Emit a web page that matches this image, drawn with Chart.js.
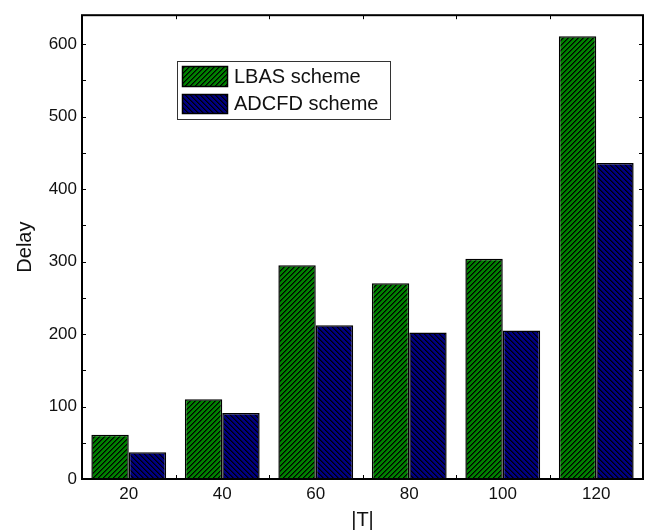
<!DOCTYPE html>
<html>
<head>
<meta charset="utf-8">
<script src="https://cdn.jsdelivr.net/npm/chart.js@4/dist/chart.umd.min.js"></script>
<style>
  html, body { margin: 0; padding: 0; background: #fff; }
  #wrap { width: 646px; height: 530px; }
</style>
</head>
<body>
<div id="wrap"><canvas id="c" width="646" height="530"></canvas></div>
<script>
// |T| values on the x axis
const categories = ['20', '40', '60', '80', '100', '120'];
// delay per scheme
const lbasDelay  = [61, 110, 295, 270, 304, 611];
const adcfdDelay = [37, 91, 212, 202, 205, 436];
const seriesNames = ['LBAS scheme', 'ADCFD scheme'];
const yTickValues = [0, 100, 200, 300, 400, 500, 600];

const FONT = '"Liberation Sans", Arial, sans-serif';

// Hatched fill: solid base colour with black diagonal stripes
function hatch(base, forward) {
  const size = 10;
  const c = document.createElement('canvas');
  c.width = size; c.height = size;
  const g = c.getContext('2d');
  g.fillStyle = base;
  g.fillRect(0, 0, size, size);
  for (let px = 0; px < size; px++) {
    for (let py = 0; py < size; py++) {
      const k = forward ? (px + py) % 5 : ((px - py) % 5 + 5) % 5;
      if (k === 0) { g.fillStyle = '#000'; g.fillRect(px, py, 1, 1); }
      else if (k === 1) { g.fillStyle = 'rgba(0,0,0,0.55)'; g.fillRect(px, py, 1, 1); }
    }
  }
  return g.createPattern(c, 'repeat');
}

const greenHatch = hatch('#008000', true);
const blueHatch  = hatch('#000080', false);

// Box frame plus inward tick marks on all four sides
const framePlugin = {
  id: 'frame',
  afterDatasetsDraw(chart) {
    const { ctx, chartArea: a, scales: { x, y } } = chart;
    ctx.save();
    ctx.strokeStyle = '#000';
    ctx.lineWidth = 1;
    ctx.beginPath();
    for (let v = 0; v <= 600; v += 50) {
      const py = Math.round(y.getPixelForValue(v)) + 0.5;
      ctx.moveTo(a.left, py); ctx.lineTo(a.left + 4, py);
      ctx.moveTo(a.right, py); ctx.lineTo(a.right - 4, py);
    }
    for (let i = 1; i < categories.length; i++) {
      const px = Math.round((x.getPixelForValue(i - 1) + x.getPixelForValue(i)) / 2) + 0.5;
      ctx.moveTo(px, a.bottom); ctx.lineTo(px, a.bottom - 4);
      ctx.moveTo(px, a.top); ctx.lineTo(px, a.top + 4);
    }
    ctx.stroke();
    ctx.lineWidth = 2;
    ctx.strokeRect(a.left, a.top, a.right - a.left, a.bottom - a.top);
    ctx.restore();
  }
};

// Boxed legend placed inside the plot area
const boxLegendPlugin = {
  id: 'boxLegend',
  afterDraw(chart) {
    const { ctx } = chart;
    ctx.save();
    ctx.strokeStyle = '#333';
    ctx.lineWidth = 1;
    ctx.strokeRect(177.5, 61.5, 213, 58);
    const rows = [
      { y: 66, h: 21, base: 83 },
      { y: 94, h: 20, base: 110 }
    ];
    chart.data.datasets.forEach((ds, i) => {
      const r = rows[i];
      ctx.fillStyle = ds.backgroundColor;
      ctx.fillRect(182, r.y, 46, r.h);
      ctx.strokeStyle = '#000';
      ctx.lineWidth = 1.5;
      ctx.strokeRect(182.5, r.y + 0.5, 45, r.h - 1);
      ctx.fillStyle = '#111';
      ctx.font = '20px ' + FONT;
      ctx.textBaseline = 'alphabetic';
      ctx.textAlign = 'left';
      ctx.fillText(ds.label, 234, r.base);
    });
    ctx.restore();
  }
};

const whiteBg = {
  id: 'whiteBg',
  beforeDraw(chart) {
    const { ctx, width, height } = chart;
    ctx.save();
    ctx.fillStyle = '#fff';
    ctx.fillRect(0, 0, width, height);
    ctx.restore();
  }
};

new Chart(document.getElementById('c'), {
  type: 'bar',
  data: {
    labels: categories,
    datasets: [
      { label: seriesNames[0], data: lbasDelay, backgroundColor: greenHatch,
        borderColor: '#000', borderWidth: 1.5 },
      { label: seriesNames[1], data: adcfdDelay, backgroundColor: blueHatch,
        borderColor: '#000', borderWidth: 1.5 }
    ]
  },
  options: {
    responsive: false,
    animation: false,
    layout: { padding: { top: 12, right: 3, left: 0, bottom: 0 } },
    datasets: { bar: { categoryPercentage: 0.8, barPercentage: 1.0 } },
    plugins: { legend: { display: false }, tooltip: { enabled: false } },
    scales: {
      x: {
        grid: { display: false, drawTicks: false },
        border: { display: false },
        ticks: { color: '#111', font: { family: FONT, size: 17 }, padding: 5 },
        title: { display: true, text: '|T|', color: '#111',
                 font: { family: FONT, size: 20, lineHeight: 1 }, padding: { top: 0, bottom: 0 } },
        afterFit(s) { s.height = 51; }
      },
      y: {
        min: 0, max: 640,
        grid: { display: false, drawTicks: false },
        border: { display: false },
        ticks: { color: '#111', font: { family: FONT, size: 17 }, padding: 5, stepSize: 100 },
        afterBuildTicks(s) { s.ticks = yTickValues.map(v => ({ value: v })); },
        title: { display: true, text: 'Delay', color: '#111',
                 font: { family: FONT, size: 20, lineHeight: 1 }, padding: { top: 15, bottom: 0 } },
        afterFit(s) { s.width = 82; }
      }
    }
  },
  plugins: [whiteBg, framePlugin, boxLegendPlugin]
});
</script>
</body>
</html>
